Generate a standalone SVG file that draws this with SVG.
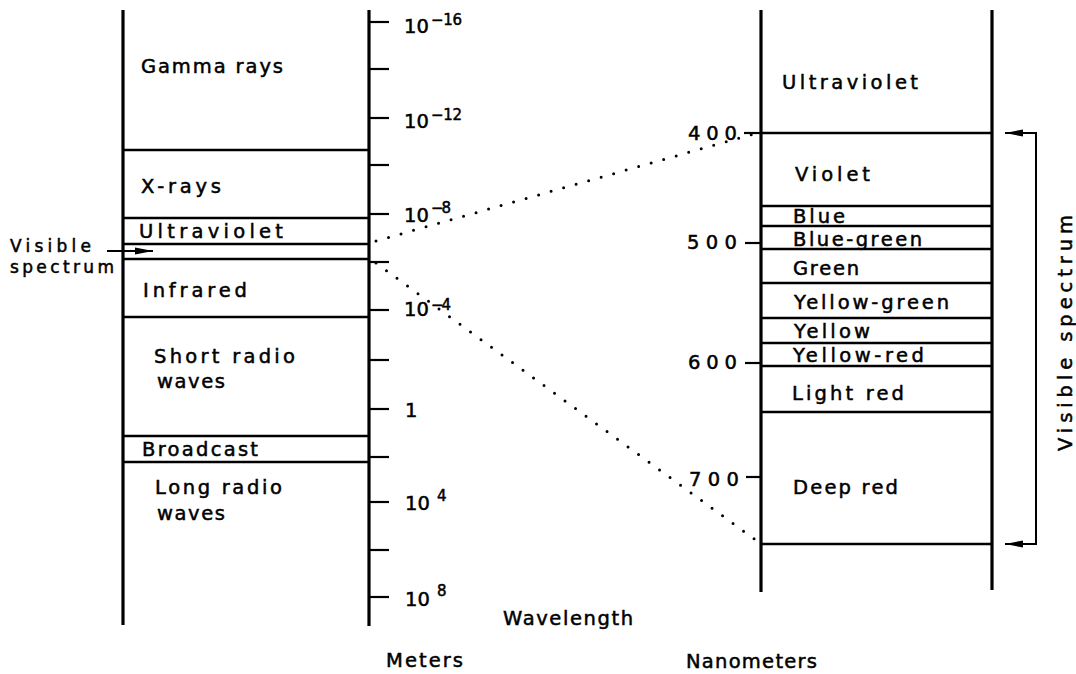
<svg xmlns="http://www.w3.org/2000/svg" width="1076" height="674" viewBox="0 0 1076 674">
<defs>
<style>
text{font-family:"DejaVu Sans","Liberation Sans",sans-serif;font-size:19.5px;fill:#000;stroke:#000;stroke-width:0.5;}
.sm{font-size:17px;}
.ln{stroke:#000;stroke-width:2.6;fill:none;}
.ax{stroke:#000;stroke-width:3.2;fill:none;}
.tk{stroke:#000;stroke-width:2.2;fill:none;}
.dot{stroke:#000;stroke-width:3;stroke-linecap:round;stroke-dasharray:0 13;fill:none;}
.sup{font-size:15px;}
</style>
<marker id="ah" viewBox="0 0 18 8" refX="18" refY="4" markerWidth="18" markerHeight="8" markerUnits="userSpaceOnUse" orient="auto">
<path d="M0,0.5 L18,4 L0,7.5 Z" fill="#000"/>
</marker>
</defs>
<rect width="1076" height="674" fill="#fff"/>

<g id="meters-scale">
<line class="ax" x1="123" y1="10" x2="123" y2="625"/>
<line class="ax" x1="369" y1="10" x2="369" y2="626"/>
<line class="ln" x1="123" y1="150" x2="369" y2="150"/>
<line class="ln" x1="123" y1="218" x2="369" y2="218"/>
<line class="ln" x1="123" y1="244" x2="369" y2="244"/>
<line class="ln" x1="123" y1="259" x2="369" y2="259"/>
<line class="ln" x1="123" y1="317" x2="369" y2="317"/>
<line class="ln" x1="123" y1="436" x2="369" y2="436"/>
<line class="ln" x1="123" y1="462" x2="369" y2="462"/>
<g class="tk">
<line x1="369" y1="22" x2="389" y2="22"/>
<line x1="369" y1="69" x2="389" y2="69"/>
<line x1="369" y1="118" x2="389" y2="118"/>
<line x1="369" y1="165" x2="389" y2="165"/>
<line x1="369" y1="214" x2="389" y2="214"/>
<line x1="369" y1="262" x2="389" y2="262"/>
<line x1="369" y1="310" x2="389" y2="310"/>
<line x1="369" y1="360" x2="389" y2="360"/>
<line x1="369" y1="409" x2="389" y2="409"/>
<line x1="369" y1="457" x2="389" y2="457"/>
<line x1="369" y1="502" x2="389" y2="502"/>
<line x1="369" y1="550" x2="389" y2="550"/>
<line x1="369" y1="597" x2="389" y2="597"/>
</g>
</g>

<g id="meters-labels">
<text x="404" y="33" textLength="25">10</text><text class="sup" x="431" y="25" textLength="31">−16</text>
<text x="404" y="128" textLength="25">10</text><text class="sup" x="431" y="120" textLength="31">−12</text>
<text x="404" y="222" textLength="25">10</text><text class="sup" x="431" y="213" textLength="20">−8</text>
<text x="404" y="316" textLength="25">10</text><text class="sup" x="431" y="310" textLength="20">−4</text>
<text x="405" y="417">1</text>
<text x="405" y="510" textLength="25">10</text><text class="sup" x="437" y="501">4</text>
<text x="405" y="606" textLength="25">10</text><text class="sup" x="437" y="596">8</text>
</g>

<g id="band-gamma"><text x="141" y="73" textLength="142">Gamma rays</text></g>
<g id="band-xrays"><text x="141" y="193" textLength="80">X-rays</text></g>
<g id="band-uv"><text x="139" y="238" textLength="144">Ultraviolet</text></g>
<g id="band-infrared"><text x="143" y="297" textLength="104">Infrared</text></g>
<g id="band-short"><text x="154" y="363" textLength="141">Short radio</text><text x="157" y="388" textLength="68">waves</text></g>
<g id="band-broadcast"><text x="142" y="456" textLength="116">Broadcast</text></g>
<g id="band-long"><text x="155" y="494" textLength="127">Long radio</text><text x="157" y="520" textLength="68">waves</text></g>

<g id="visible-label-left">
<text class="sm" x="10" y="252" textLength="81">Visible</text>
<text class="sm" x="10" y="273" textLength="104">spectrum</text>
</g>

<g id="nm-scale">
<line class="ax" x1="761" y1="10" x2="761" y2="592"/>
<line class="ax" x1="992" y1="10" x2="992" y2="590"/>
<line class="ln" x1="761" y1="133" x2="992" y2="133"/>
<line class="ln" x1="761" y1="206" x2="992" y2="206"/>
<line class="ln" x1="761" y1="226" x2="992" y2="226"/>
<line class="ln" x1="761" y1="249" x2="992" y2="249"/>
<line class="ln" x1="761" y1="283" x2="992" y2="283"/>
<line class="ln" x1="761" y1="318" x2="992" y2="318"/>
<line class="ln" x1="761" y1="343" x2="992" y2="343"/>
<line class="ln" x1="761" y1="366" x2="992" y2="366"/>
<line class="ln" x1="761" y1="412" x2="992" y2="412"/>
<line class="ln" x1="761" y1="544" x2="992" y2="544"/>
<g class="tk">
<line x1="744" y1="133" x2="761" y2="133"/>
<line x1="745" y1="243" x2="761" y2="243"/>
<line x1="745" y1="363" x2="761" y2="363"/>
<line x1="746" y1="477" x2="761" y2="477"/>
</g>
<text x="688" y="140" textLength="49">400</text>
<text x="687" y="249" textLength="50">500</text>
<text x="688" y="369" textLength="49">600</text>
<text x="689" y="486" textLength="50">700</text>
</g>

<g id="nm-uv"><text x="782" y="89" textLength="136">Ultraviolet</text></g>
<g id="nm-violet"><text x="795" y="181" textLength="75">Violet</text></g>
<g id="nm-blue"><text x="793" y="223" textLength="52">Blue</text></g>
<g id="nm-bluegreen"><text x="793" y="246" textLength="129">Blue-green</text></g>
<g id="nm-green"><text x="793" y="275" textLength="66">Green</text></g>
<g id="nm-yellowgreen"><text x="794" y="309" textLength="155">Yellow-green</text></g>
<g id="nm-yellow"><text x="794" y="338" textLength="76">Yellow</text></g>
<g id="nm-yellowred"><text x="793" y="362" textLength="131">Yellow-red</text></g>
<g id="nm-lightred"><text x="792" y="400" textLength="112">Light red</text></g>
<g id="nm-deepred"><text x="793" y="494" textLength="105">Deep red</text></g>

<g id="visible-label-right">
<text transform="translate(1072,333) rotate(-90)" text-anchor="middle" textLength="236">Visible spectrum</text>
</g>

<g id="axis-titles">
<text x="503" y="625" textLength="130">Wavelength</text>
<text x="386" y="667" textLength="77">Meters</text>
<text x="686" y="668" textLength="131">Nanometers</text>
</g>

<g id="connectors">
<line class="dot" x1="376" y1="241" x2="757" y2="133"/>
<line class="dot" x1="376" y1="263" x2="757" y2="541"/>
<line stroke="#000" stroke-width="2" x1="107" y1="251" x2="153" y2="251" marker-end="url(#ah)"/>
<polyline fill="none" stroke="#000" stroke-width="2" points="1036,133 1036,544"/>
<line stroke="#000" stroke-width="2" x1="1037" y1="133" x2="1005" y2="133" marker-end="url(#ah)"/>
<line stroke="#000" stroke-width="2" x1="1037" y1="544" x2="1005" y2="544" marker-end="url(#ah)"/>
</g>
</svg>
